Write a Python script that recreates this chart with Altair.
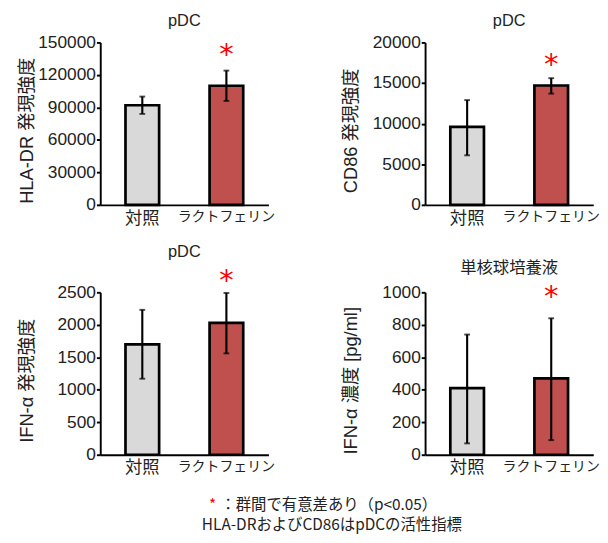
import altair as alt
import pandas as pd

groups = ["対照", "ラクトフェリン"]
significant = [False, True]

hla_mean = [92000, 110000]
hla_lo = [84000, 96000]
hla_hi = [100000, 124000]
hla_ticks = [0, 30000, 60000, 90000, 120000, 150000]

cd86_mean = [9600, 14700]
cd86_lo = [6100, 13700]
cd86_hi = [12900, 15600]
cd86_ticks = [0, 5000, 10000, 15000, 20000]

ifn_pdc_mean = [1700, 2030]
ifn_pdc_lo = [1170, 1560]
ifn_pdc_hi = [2230, 2490]
ifn_pdc_ticks = [0, 500, 1000, 1500, 2000, 2500]

ifn_mono_mean = [410, 470]
ifn_mono_lo = [70, 90]
ifn_mono_hi = [740, 840]
ifn_mono_ticks = [0, 200, 400, 600, 800, 1000]

titles = ["pDC", "pDC", "pDC", "単核球培養液"]
ytitles = ["HLA-DR 発現強度", "CD86 発現強度", "IFN-α 発現強度", "IFN-α 濃度 [pg/ml]"]

note_star = "*"
note_line1 = "：群間で有意差あり（p<0.05）"
note_line2 = "HLA-DRおよびCD86はpDCの活性指標"

LATIN_CJK = "Liberation Sans, Noto Sans CJK JP"


def panel(title, ytitle, mean, lo, hi, yticks, star_dy, title_offset, extra=None):
    df = pd.DataFrame({"group": groups, "mean": mean, "lo": lo, "hi": hi, "sig": significant})
    x = alt.X(
        "group:N",
        sort=groups,
        title=None,
        scale=alt.Scale(paddingInner=0.6, paddingOuter=0.3),
        axis=alt.Axis(
            labelAngle=0,
            ticks=False,
            labelFont="Noto Sans CJK JP",
            labelFontSize={"condition": {"test": "datum.value == '対照'", "value": 18}, "value": 14.5},
            labelPadding=5,
        ),
    )
    y = alt.Y(
        "mean:Q",
        title=ytitle,
        scale=alt.Scale(domain=[yticks[0], yticks[-1]], nice=False),
        axis=alt.Axis(values=yticks, tickCount=12, format="d", labelOverlap=False, titleY=91.5),
    )
    base = alt.Chart(df)
    bars = base.mark_bar(stroke="black", strokeWidth=2.8).encode(
        x=x,
        y=y,
        color=alt.Color(
            "group:N",
            scale=alt.Scale(domain=groups, range=["#d9d9d9", "#c0504d"]),
            legend=None,
        ),
    )
    xs = alt.X("group:N", sort=groups)
    rule = base.mark_rule(color="black", strokeWidth=2.2).encode(
        x=xs, y=alt.Y("lo:Q"), y2="hi:Q"
    )
    cap_lo = base.mark_tick(color="black", thickness=2, size=6).encode(x=xs, y="lo:Q")
    cap_hi = base.mark_tick(color="black", thickness=2, size=6).encode(x=xs, y="hi:Q")
    star = (
        base.transform_filter("datum.sig")
        .mark_text(text="*", color="red", fontSize=30, font="DejaVu Sans",
                   baseline="alphabetic", dy=star_dy)
        .encode(x=xs, y="hi:Q")
    )
    layers = [bars, rule, cap_lo, cap_hi, star]
    if extra:
        layers += extra
    return alt.layer(*layers).properties(
        width=175,
        height=169,
        title=alt.TitleParams(
            text=title,
            offset=title_offset,
            fontSize=17,
            font=LATIN_CJK,
            fontWeight="normal",
            color="#222",
        ),
    )


note_df1 = pd.DataFrame({"t": [note_star]})
note_df2 = pd.DataFrame({"t": [note_line1]})
note_df3 = pd.DataFrame({"t": [note_line2]})
notes = [
    alt.Chart(note_df1).mark_text(align="center", baseline="middle", font="Noto Sans CJK JP",
                                  fontSize=16, color="red")
    .encode(x=alt.value(117), y=alt.value(222), text="t:N"),
    alt.Chart(note_df2).mark_text(align="left", baseline="middle", font="Noto Sans CJK JP",
                                  fontSize=16, color="#222")
    .encode(x=alt.value(125), y=alt.value(222), text="t:N"),
    alt.Chart(note_df3).mark_text(align="center", baseline="middle", font="Noto Sans CJK JP",
                                  fontSize=16, color="#222")
    .encode(x=alt.value(241), y=alt.value(242), text="t:N"),
]

p1 = panel(titles[0], ytitles[0], hla_mean, hla_lo, hla_hi, hla_ticks, -7, 4)
p2 = panel(titles[1], ytitles[1], cd86_mean, cd86_lo, cd86_hi, cd86_ticks, -4, 4)
p3 = panel(titles[2], ytitles[2], ifn_pdc_mean, ifn_pdc_lo, ifn_pdc_hi, ifn_pdc_ticks, -3, 6, notes)
p4 = panel(titles[3], ytitles[3], ifn_mono_mean, ifn_mono_lo, ifn_mono_hi, ifn_mono_ticks, -13, 6)

chart = (
    alt.concat(p1, p2, p3, p4, columns=2, spacing={"row": 91, "column": 163}, bounds="flush")
    .properties(padding={"left": 10, "top": -6, "right": 0, "bottom": 0}, background="white")
    .configure_view(stroke=None)
    .configure_axis(
        grid=False,
        domainColor="black",
        domainWidth=2,
        tickColor="black",
        tickWidth=2,
        tickSize=4,
        labelColor="#222",
        titleColor="#222",
        titleFont=LATIN_CJK,
        titleFontSize=19,
        titleFontWeight="normal",
    )
    .configure_axisY(
        labelFont="Liberation Sans",
        labelFontSize=18,
        labelPadding=1,
        minExtent=62,
        maxExtent=62,
        titlePadding=5,
    )
)

chart.save("out.html", embed_options={"renderer": "svg", "actions": False})
